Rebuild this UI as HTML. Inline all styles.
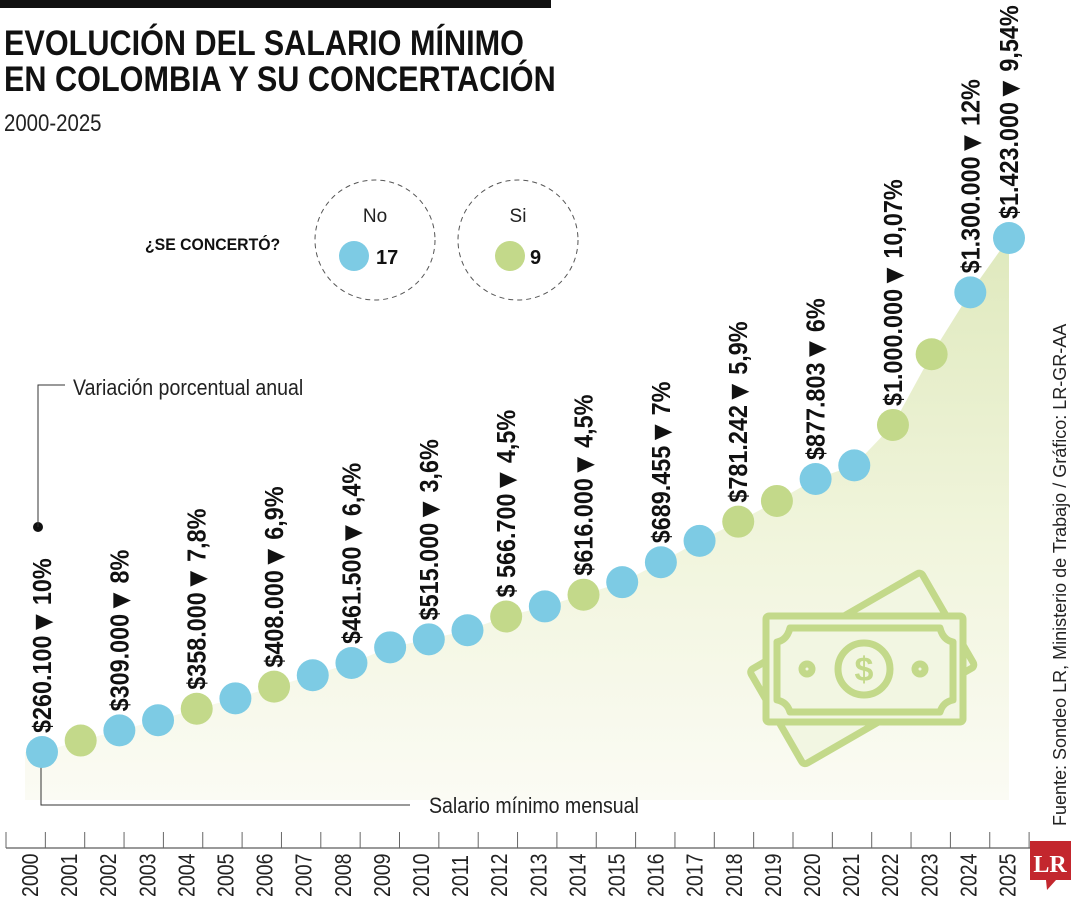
<!DOCTYPE html>
<html><head><meta charset="utf-8"><style>
html,body{margin:0;padding:0;background:#fff;}
svg{display:block;font-family:"Liberation Sans Narrow","Liberation Sans",sans-serif;}
</style></head><body>
<svg id="chart" width="1080" height="900" viewBox="0 0 1080 900">
<defs>
<linearGradient id="ag" x1="0" y1="0" x2="0" y2="1">
<stop offset="0" stop-color="#dfe9bd"/><stop offset="0.55" stop-color="#f1f5dd"/><stop offset="1" stop-color="#fbfbf4"/>
</linearGradient>
</defs>
<rect x="0" y="0" width="551" height="8" fill="#111"/>
<text transform="translate(4,55) scale(0.875,1)" font-size="35" font-weight="bold" fill="#111">EVOLUCIÓN DEL SALARIO MÍNIMO</text>
<text transform="translate(4,91) scale(0.875,1)" font-size="35" font-weight="bold" fill="#111">EN COLOMBIA Y SU CONCERTACIÓN</text>
<text transform="translate(4,131) scale(0.85,1)" font-size="24" fill="#222">2000-2025</text>

<g>
<text transform="translate(145,250) scale(0.93,1)" font-size="17" font-weight="bold" fill="#111">¿SE CONCERTÓ?</text>
<circle cx="375" cy="240" r="60" fill="none" stroke="#555" stroke-dasharray="5,4"/>
<text x="375" y="222" font-size="19" text-anchor="middle" fill="#222">No</text>
<circle cx="354" cy="256" r="15" fill="#7dcbe4"/>
<text x="376" y="264" font-size="20" font-weight="bold" fill="#111">17</text>
<circle cx="518" cy="240" r="60" fill="none" stroke="#555" stroke-dasharray="5,4"/>
<text x="518" y="222" font-size="19" text-anchor="middle" fill="#222">Si</text>
<circle cx="510" cy="256" r="15" fill="#c3d98a"/>
<text x="530" y="264" font-size="20" font-weight="bold" fill="#111">9</text>
</g>

<g id="area"></g>
<g id="icon" fill="none" stroke="#c3d98a" stroke-width="7" stroke-linejoin="round">
<rect x="763" y="614" width="198" height="109" rx="4" transform="rotate(-30 862 668)" fill="#f2f6e2"/>
<rect x="766" y="616" width="197" height="106" rx="3" fill="#f2f6e2"/>
<path d="M790 628 H940 Q943 640 953 642 V700 Q943 702 940 712 H790 Q787 702 777 700 V642 Q787 640 790 628 Z"/>
<circle cx="864" cy="669" r="26"/>
<circle cx="807" cy="669" r="5"/><circle cx="920" cy="669" r="5"/>
<text x="864" y="681" font-size="34" font-weight="bold" text-anchor="middle" fill="#c3d98a" stroke="none">$</text>
</g>

<g id="callouts">
<circle cx="38" cy="527" r="5" fill="#111"/>
<polyline points="38,527 38,385 65,385" fill="none" stroke="#333" stroke-width="1"/>
<text transform="translate(73,395) scale(0.89,1)" font-size="22" fill="#222">Variación porcentual anual</text>
<polyline points="41,760 41,805 410,805" fill="none" stroke="#333" stroke-width="1"/>
<text transform="translate(429,813) scale(0.89,1)" font-size="22" fill="#222">Salario mínimo mensual</text>
</g>

<g id="marks"></g>
<g id="labels"></g>
<g id="axis"></g>

<text transform="translate(1066,826) rotate(-90)" font-size="18" fill="#222">Fuente: Sondeo LR, Ministerio de Trabajo / Gráfico: LR-GR-AA</text>
<g>
<path d="M1030 841 H1071 V880 H1056 L1047 890 L1046 880 H1030 Z" fill="#c3272e"/>
<text x="1050" y="872" font-size="24" font-weight="bold" font-family="Liberation Serif,serif" fill="#fff" text-anchor="middle">LR</text>
</g>
</svg>
<script>
const years = [2000,2001,2002,2003,2004,2005,2006,2007,2008,2009,2010,2011,2012,2013,2014,2015,2016,2017,2018,2019,2020,2021,2022,2023,2024,2025];
const salaries = [260100,286000,309000,332000,358000,381500,408000,433700,461500,496900,515000,535600,566700,589500,616000,644350,689455,737717,781242,828116,877803,908526,1000000,1160000,1300000,1423000];
const agreed = [0,1,0,0,1,0,1,0,0,0,0,0,1,0,1,0,0,0,1,1,0,0,1,1,0,0];
const labelYears = [2000,2002,2004,2006,2008,2010,2012,2014,2016,2018,2020,2022,2024,2025];
const labelSalaries = ["$260.100","$309.000","$358.000","$408.000","$461.500","$515.000","$ 566.700","$616.000","$689.455","$781.242","$877.803","$1.000.000","$1.300.000","$1.423.000"];
const labelPcts = ["10%","8%","7,8%","6,9%","6,4%","3,6%","4,5%","4,5%","7%","5,9%","6%","10,07%","12%","9,54%"];

const NS="http://www.w3.org/2000/svg";
function xPt(i){return 42 + i*38.68;}
function yPt(v){return 752 - (v-260100)*(514/(1423000-260100));}
function xLab(i){return 30 + i*39.1;}
function mk(tag,attrs,parent){const e=document.createElementNS(NS,tag);for(const k in attrs)e.setAttribute(k,attrs[k]);parent.appendChild(e);return e;}

const area=document.getElementById('area');
let pts=[[25,800],[25,yPt(salaries[0])]];
salaries.forEach((v,i)=>pts.push([xPt(i),yPt(v)]));
pts.push([xPt(salaries.length-1),800]);
const poly=mk('polygon',{points:pts.map(p=>p.join(',')).join(' '),fill:'url(#ag)'},area);



const marks=document.getElementById('marks');
salaries.forEach((v,i)=>{
  const c=mk('circle',{cx:xPt(i),cy:yPt(v),r:16,fill:agreed[i]?'#c3d98a':'#7dcbe4'},marks);
  
  
});

const labels=document.getElementById('labels');
labelYears.forEach((yr,j)=>{
  const i=years.indexOf(yr);
  const x=xPt(i)+9, y=yPt(salaries[i])-19;
  const t=mk('text',{transform:`translate(${x},${y}) rotate(-90) scale(0.9,1)`,'font-size':26,'font-weight':'bold',fill:'#111'},labels);
  
  
  const s1=mk('tspan',{},t); s1.textContent=labelSalaries[j];
  const s2=mk('tspan',{'font-size':30,dy:2},t); s2.textContent='\u25BC';
  const s3=mk('tspan',{dy:-2,dx:4},t); s3.textContent=labelPcts[j];
});

const axis=document.getElementById('axis');
const base=mk('line',{x1:6,y1:848,x2:1032,y2:848,stroke:'#333','stroke-width':1},axis);


for(let k=0;k<=years.length;k++){
  const tx=6+k*39.35;
  const tk=mk('line',{x1:tx,y1:832,x2:tx,y2:848,stroke:'#666','stroke-width':1},axis);
  
  
}
years.forEach((yr,i)=>{
  const t=mk('text',{transform:`translate(${xLab(i)+8},897) rotate(-90) scale(0.85,1)`,'font-size':23,fill:'#222'},axis);
  
  
  t.textContent=yr;
});
</script>
</body></html>
